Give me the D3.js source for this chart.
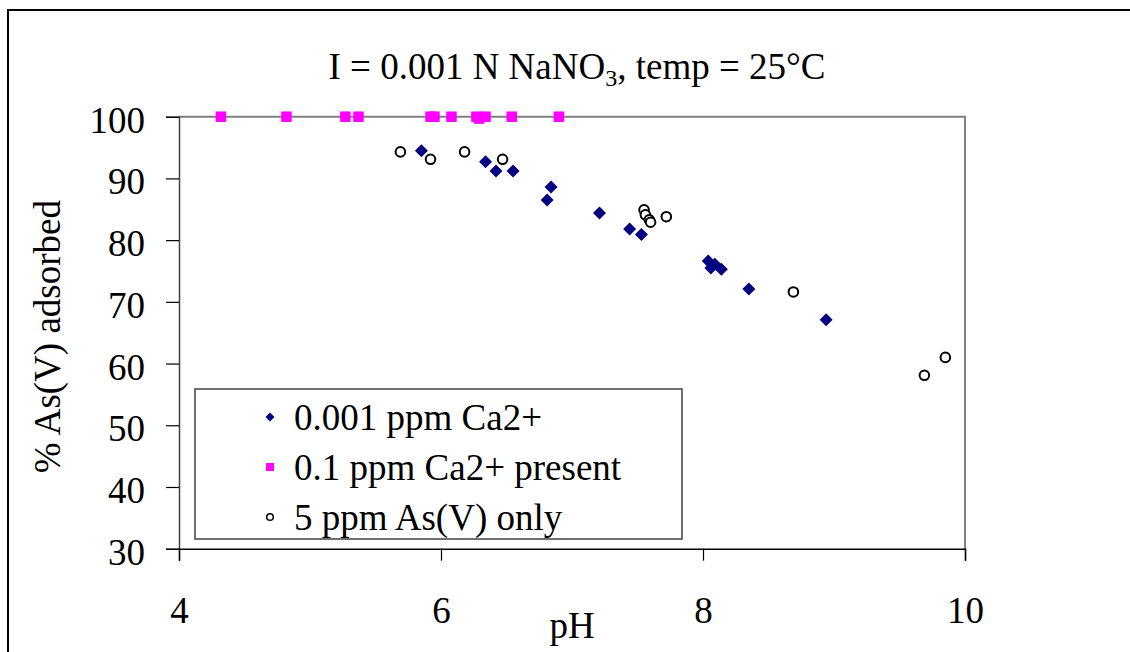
<!DOCTYPE html>
<html>
<head>
<meta charset="utf-8">
<script src="https://cdn.jsdelivr.net/npm/d3@7"></script>
<style>
  html, body { margin: 0; padding: 0; background: #fff; }
  svg { display: block; }
  text { font-family: "Liberation Serif", "Times New Roman", serif; fill: #000; }
</style>
</head>
<body>
<svg id="chart" width="1130" height="652"></svg>
<script>
// ---- data ----
const titleMain = "I = 0.001 N NaNO";
const titleSub = "3";
const titleTail = ", temp = 25°C";
const xLabel = "pH";
const yLabel = "% As(V) adsorbed";
const xTicks = [4, 6, 8, 10];
const yTicks = [30, 40, 50, 60, 70, 80, 90, 100];
const seriesNames = ["0.001 ppm Ca2+", "0.1 ppm Ca2+ present", "5 ppm As(V) only"];

const ca001pH  = [5.85, 6.34, 6.42, 6.55, 6.81, 6.84, 7.21, 7.44, 7.53, 8.04, 8.06, 8.09, 8.14, 8.35, 8.94];
const ca001Ads = [94.5, 92.7, 91.2, 91.2, 86.5, 88.6, 84.4, 81.8, 80.9, 76.6, 75.5, 76.1, 75.3, 72.1, 67.1];

const ca01pH  = [4.32, 4.82, 5.27, 5.37, 5.92, 5.95, 6.08, 6.27, 6.29, 6.34, 6.54, 6.90];
const ca01Ads = [100, 100, 100, 100, 100, 100, 100, 100, 99.7, 100, 100, 100];

const asOnlypH  = [5.69, 5.92, 6.18, 6.47, 7.55, 7.56, 7.59, 7.60, 7.72, 8.69, 9.69, 9.85];
const asOnlyAds = [94.3, 93.1, 94.3, 93.1, 84.9, 84.1, 83.3, 82.9, 83.8, 71.6, 58.1, 61.0];

// ---- layout ----
const svg = d3.select("#chart");
const W = 1130, H = 652;
const plot = { left: 179, right: 965, top: 116.7, bottom: 548.7 };
const FS = 37;

const x = d3.scaleLinear().domain([4, 10]).range([plot.left, plot.right]);
const y = d3.scaleLinear().domain([30, 100]).range([plot.bottom, plot.top]);

// outer chart border (extends past right/bottom edge)
svg.append("rect")
  .attr("x", 8).attr("y", 10)
  .attr("width", 1200).attr("height", 700)
  .attr("fill", "none").attr("stroke", "#000").attr("stroke-width", 2);

// plot area border (top & right gray)
svg.append("path")
  .attr("d", `M${plot.left},${plot.top}H${plot.right}V${plot.bottom}`)
  .attr("fill", "none").attr("stroke", "#808080").attr("stroke-width", 2);

// title
const t = svg.append("text")
  .attr("x", 577).attr("y", 79)
  .attr("text-anchor", "middle")
  .style("font-size", FS + "px");
t.append("tspan").text(titleMain);
t.append("tspan").text(titleSub).attr("dy", 7).style("font-size", (FS * 0.65) + "px");
t.append("tspan").text(titleTail).attr("dy", -7);

// y axis
const yAxis = svg.append("g")
  .attr("transform", `translate(${plot.left},0)`)
  .call(d3.axisLeft(y).tickValues(yTicks).tickSize(13).tickPadding(21).tickFormat(d3.format("d")));
yAxis.select(".domain").attr("stroke", "#404040").attr("stroke-width", 1.5);
yAxis.selectAll(".tick line").attr("stroke", "#000").attr("stroke-width", 1.2);
yAxis.selectAll(".tick text")
  .style("font-size", FS + "px")
  .style("font-family", "'Liberation Serif', serif")
  .attr("dy", "0.42em");

// x axis
const xAxis = svg.append("g")
  .attr("transform", `translate(0,${plot.bottom})`)
  .call(d3.axisBottom(x).tickValues(xTicks).tickSize(12).tickPadding(36).tickFormat(d3.format("d")));
xAxis.select(".domain").attr("stroke", "#000").attr("stroke-width", 1.5);
xAxis.selectAll(".tick line").attr("stroke", "#000").attr("stroke-width", 1.2);
xAxis.selectAll(".tick text")
  .style("font-size", FS + "px")
  .style("font-family", "'Liberation Serif', serif");

// axis labels
svg.append("text")
  .attr("x", 572).attr("y", 638)
  .attr("text-anchor", "middle")
  .style("font-size", FS + "px")
  .text(xLabel);

svg.append("text")
  .attr("transform", `translate(60,${(plot.top + plot.bottom) / 2 + 4}) rotate(-90)`)
  .attr("text-anchor", "middle")
  .style("font-size", FS + "px")
  .text(yLabel);

// marker drawers
const diamond = (g, cx, cy, r) => g.append("path")
  .attr("d", `M${cx},${cy - r}L${cx + r},${cy}L${cx},${cy + r}L${cx - r},${cy}Z`)
  .attr("fill", "#000080");
const square = (g, cx, cy, s) => g.append("rect")
  .attr("x", cx - s / 2).attr("y", cy - s / 2).attr("width", s).attr("height", s)
  .attr("fill", "#ff00ff");
const circle = (g, cx, cy, r) => g.append("circle")
  .attr("cx", cx).attr("cy", cy).attr("r", r)
  .attr("fill", "#fff").attr("stroke", "#000").attr("stroke-width", 2);

const marks = svg.append("g");
ca001pH.forEach((p, i) => diamond(marks, x(p), y(ca001Ads[i]), 6.5));
ca01pH.forEach((p, i) => square(marks, x(p), y(ca01Ads[i]), 10.5));
asOnlypH.forEach((p, i) => circle(marks, x(p), y(asOnlyAds[i]), 4.8));

// legend
const lg = svg.append("g");
lg.append("rect")
  .attr("x", 195).attr("y", 389).attr("width", 487).attr("height", 150)
  .attr("fill", "#fff").attr("stroke", "#404040").attr("stroke-width", 1.5);
const rowsY = [417, 467, 517];
diamond(lg, 270, rowsY[0], 4.5);
square(lg, 270, rowsY[1], 8);
circle(lg, 270, rowsY[2], 3.3).attr("stroke-width", 1.5);
seriesNames.forEach((n, i) => {
  lg.append("text")
    .attr("x", 294).attr("y", rowsY[i] + 13)
    .style("font-size", FS + "px")
    .text(n);
});
</script>
</body>
</html>
